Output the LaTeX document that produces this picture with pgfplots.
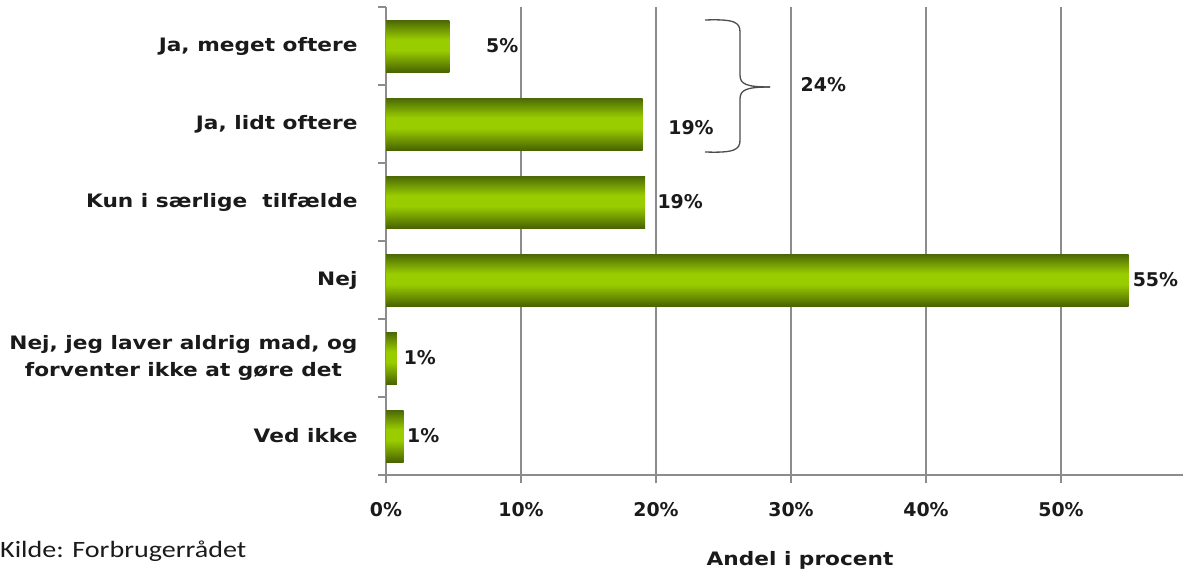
\documentclass[border=0pt]{standalone}
\usepackage{fontspec}
\setmainfont{DejaVu Sans}
\newfontfamily\widefont{DejaVu Sans}[FakeStretch=1.17]
\newfontfamily\kildefont{Carlito}[FakeStretch=1.2]
\usepackage{pgfplots}
\pgfplotsset{compat=1.18}
\definecolor{bartop}{HTML}{4B6806}
\definecolor{barlight}{HTML}{9ACD00}
\definecolor{barbot}{HTML}{496400}
\definecolor{gridgray}{HTML}{8C8C8C}
\definecolor{txt}{HTML}{1A1A1A}
\pgfdeclareverticalshading{barshade}{100bp}{color(0bp)=(barbot); color(25bp)=(barbot); color(46bp)=(barlight); color(56bp)=(barlight); color(75bp)=(bartop); color(100bp)=(bartop)}
\pgfplotsset{greenbar/.style={xbar, bar width=52bp, draw=none, shade, shading=barshade}}
\begin{document}
\begin{tikzpicture}
\useasboundingbox (0,0) rectangle (1184bp,570bp);
\begin{axis}[
  at={(386bp,95bp)}, anchor=south west,
  scale only axis, width=796.5bp, height=468bp,
  xmin=0, xmax=59, ymin=-0.5, ymax=5.5, y dir=reverse,
  axis x line*=bottom, axis y line*=left,
  axis line style={gridgray, line width=1.3bp},
  xtick={0,10,20,30,40,50},
  xticklabels={0\%,10\%,20\%,30\%,40\%,50\%},
  xmajorgrids, grid style={gridgray, line width=1.3bp},
  major tick length=8bp, tick align=outside,
  tick style={gridgray, line width=1.3bp},
  xticklabel style={font=\fontsize{19}{22}\selectfont\bfseries, text=txt, yshift=-16bp},
  ytick={-0.5,0.5,1.5,2.5,3.5,4.5,5.5},
  yticklabels={},
  extra y ticks={0,1,2,3,4,5},
  extra y tick labels={{Ja, meget oftere},{Ja, lidt oftere},{Kun i særlige\ \ tilfælde},Nej,{Nej, jeg laver aldrig mad, og\\forventer ikke at gøre det},Ved ikke},
  extra y tick style={tick style={draw=none}, ytick style={draw=none},
    yticklabel style={font=\fontsize{18.6}{27}\selectfont\widefont\bfseries, text=txt, align=center, xshift=-17bp}},
  clip=false,
]
\addplot[greenbar] coordinates {(4.7,0)};
\addplot[greenbar] coordinates {(19.0,1)};
\addplot[greenbar] coordinates {(19.2,2)};
\addplot[greenbar] coordinates {(55.0,3)};
\addplot[greenbar] coordinates {(0.8,4)};
\addplot[greenbar] coordinates {(1.3,5)};
\begin{scope}[every node/.style={anchor=west, inner sep=0pt, font=\fontsize{19}{22}\selectfont\bfseries, text=txt}]
\node at (axis cs:7.4,0) {5\%};
\node at (axis cs:20.9,1.05) {19\%};
\node at (axis cs:20.1,2) {19\%};
\node at (axis cs:55.3,3) {55\%};
\node at (axis cs:1.3,4) {1\%};
\node at (axis cs:1.55,5) {1\%};
\node at (axis cs:30.7,0.5) {24\%};
\end{scope}
\end{axis}
\draw[color=black!70, line width=1.3bp]
  (705bp,550bp) .. controls (734bp,551bp) and (740bp,548bp) .. (740bp,538bp)
  -- (740bp,495bp) .. controls (740bp,486bp) and (746bp,483bp) .. (770bp,483bp);
\draw[color=black!70, line width=1.3bp]
  (705bp,418bp) .. controls (734bp,417bp) and (740bp,420bp) .. (740bp,430bp)
  -- (740bp,471bp) .. controls (740bp,480bp) and (746bp,483bp) .. (770bp,483bp);
\node[anchor=base, inner sep=0pt, text=txt, font=\fontsize{18.6}{22}\selectfont\widefont\bfseries] at (800bp,4.5bp) {Andel i procent};
\node[anchor=base west, inner sep=0pt, text=txt, font=\fontsize{23.5}{26}\selectfont\kildefont] at (0bp,13bp) {Kilde: Forbrugerrådet};
\end{tikzpicture}
\end{document}
